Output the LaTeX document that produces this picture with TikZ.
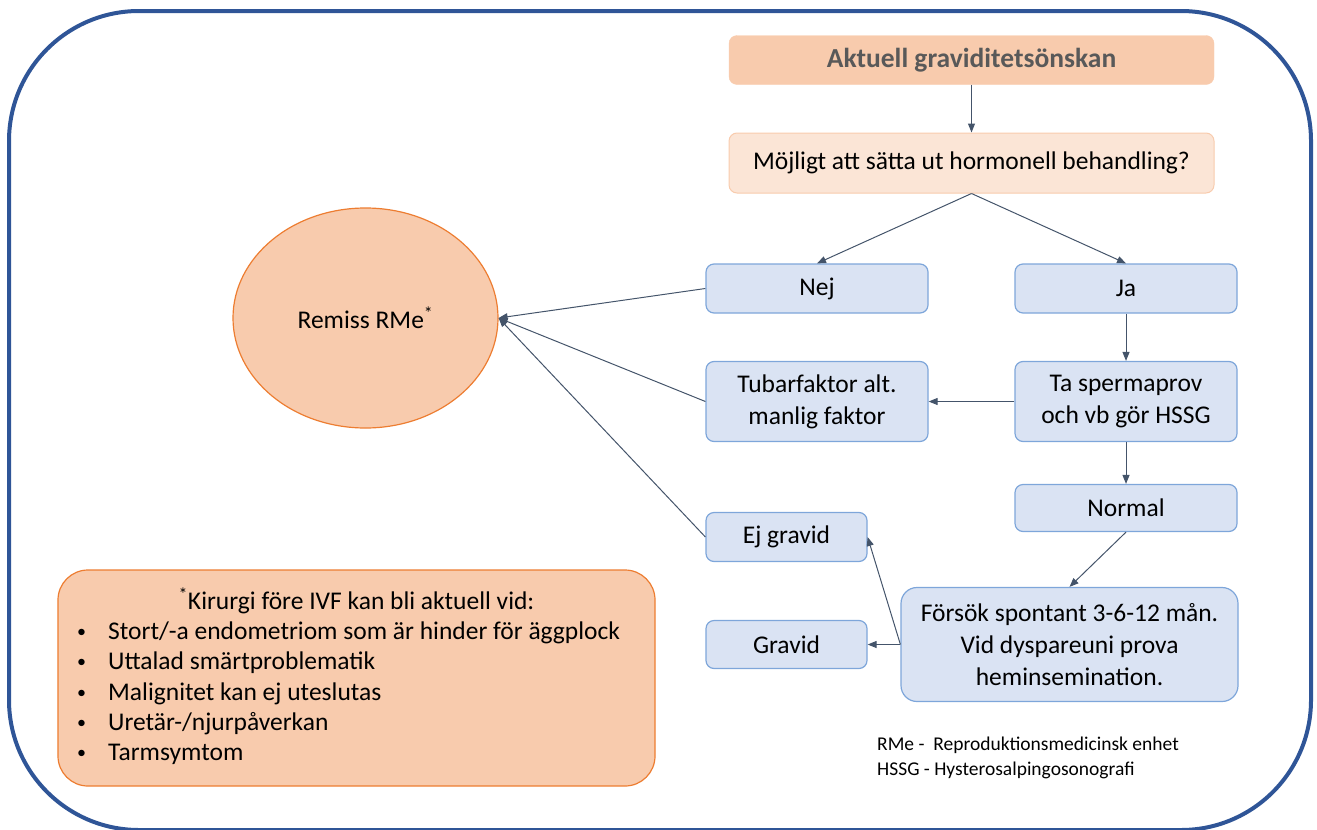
\documentclass[tikz,border=0pt]{standalone}
\usepackage{fontspec}
\setmainfont{Carlito}
\usepackage{xcolor}
\usepackage{tikz}
\usetikzlibrary{arrows.meta, positioning, shapes.geometric}

\definecolor{ramblue}{HTML}{2F5597}
\definecolor{orangefill}{HTML}{F8CBAD}
\definecolor{orangeline}{HTML}{ED7D31}
\definecolor{ljusorange}{HTML}{FBE5D6}
\definecolor{boxfill}{HTML}{DAE3F3}
\definecolor{boxline}{HTML}{7EA6DA}
\definecolor{pilgra}{HTML}{44546A}
\definecolor{rubrikgra}{HTML}{595959}

\newcommand{\normaltext}{\fontsize{25.5bp}{32bp}\selectfont}
\newcommand{\smalltext}{\fontsize{19.5bp}{25bp}\selectfont}
\newcommand{\punkt}{\raisebox{2bp}{\fontsize{18bp}{18bp}\selectfont •}}

\tikzset{
    flowbox/.style={draw=boxline, fill=boxfill, line width=1.2bp, rounded corners=8bp,
        align=center, inner sep=0pt, font=\normaltext},
    pil/.style={draw=pilgra, line width=1bp, -{Triangle[length=9bp, width=7bp]}},
}

\begin{document}
\begin{tikzpicture}[x=1bp, y=-1bp]
    \useasboundingbox (0,0) rectangle (1317,829);

    % ram
    \draw[ramblue, line width=4bp, rounded corners=130bp] (9,11) rectangle (1311,830);

    % rubrik och fråga
    \node[fill=orangefill, draw=orangefill, rounded corners=8bp, minimum width=485bp, minimum height=49bp,
        inner sep=0pt, text=rubrikgra, font=\fontsize{27.5bp}{32bp}\selectfont\bfseries]
        (rubrik) at (971.5, 60) {Aktuell graviditetsönskan};
    \node[fill=ljusorange, draw=orangefill, line width=1bp, rounded corners=8bp, minimum width=485bp,
        minimum height=60bp, inner sep=0pt, font=\normaltext]
        (fraga) at (971.5, 163) {Möjligt att sätta ut hormonell behandling?};

    % remiss
    \node[ellipse, fill=orangefill, draw=orangeline, line width=1.2bp, minimum width=265bp,
        minimum height=220bp, font=\normaltext] (remiss) at (365.5, 318) {Remiss RMe\textsuperscript{*}};

    % flödesrutor
    \node[flowbox, minimum width=222bp, minimum height=49bp] (nej) at (817, 288.5) {Nej};
    \node[flowbox, minimum width=222bp, minimum height=49bp] (ja) at (1126, 288.5) {Ja};
    \node[flowbox, minimum width=222bp, minimum height=80bp] (tubar) at (817, 401.5) {Tubarfaktor alt.\\manlig faktor};
    \node[flowbox, minimum width=222bp, minimum height=80bp] (sperma) at (1126, 401.5) {Ta spermaprov\\och vb gör HSSG};
    \node[flowbox, minimum width=222bp, minimum height=47bp] (normal) at (1126, 508) {Normal};
    \node[flowbox, minimum width=161bp, minimum height=49bp] (ejgravid) at (786.5, 537) {Ej gravid};
    \node[flowbox, minimum width=161bp, minimum height=48bp] (gravid) at (786.5, 644.5) {Gravid};
    \node[flowbox, rounded corners=16bp, minimum width=337bp, minimum height=114bp]
        (forsok) at (1069.5, 644.5) {Försök spontant 3-6-12 mån.\\Vid dyspareuni prova\\heminsemination.};

    % pilar
    \draw[pil] (rubrik) -- (fraga);
    \draw[pil] (fraga.south) -- (nej.north);
    \draw[pil] (fraga.south) -- (ja.north);
    \draw[pil] (ja) -- (sperma);
    \draw[pil] (sperma) -- (tubar);
    \draw[pil] (sperma) -- (normal);
    \draw[pil] (normal.south) -- (forsok.north);
    \draw[pil] (forsok.west) -- (gravid.east);
    \draw[pil] (forsok.west) -- (ejgravid.east);
    \draw[pil] (nej.west) -- (remiss.east);
    \draw[pil] (tubar.west) -- (remiss.east);
    \draw[pil] (ejgravid.west) -- (remiss.east);

    % kirurgi
    \node[fill=orangefill, draw=orangeline, line width=1.2bp, rounded corners=30bp,
        minimum width=597bp, minimum height=216bp] (kirurgi) at (356.5, 678) {};
    \node[font=\normaltext, inner sep=0pt] (kirrubrik) at (356.5, 601) {\textsuperscript{*}Kirurgi före IVF kan bli aktuell vid:};
    \node[font=\fontsize{25.5bp}{30.2bp}\selectfont, anchor=west, inner sep=0pt] (kirlista) at (77, 694) {%
        \begin{tabular}{@{}l@{\hspace{22bp}}l@{}}
        \punkt & Stort/-a endometriom som är hinder för äggplock\\
        \punkt & Uttalad smärtproblematik\\
        \punkt & Malignitet kan ej uteslutas\\
        \punkt & Uretär-/njurpåverkan\\
        \punkt & Tarmsymtom
        \end{tabular}};

    % förkortningar
    \node[font=\smalltext, anchor=west, align=left, inner sep=0pt] (forkort) at (877, 758)
        {RMe -\ \ Reproduktionsmedicinsk enhet\\HSSG - Hysterosalpingosonografi};
\end{tikzpicture}
\end{document}
